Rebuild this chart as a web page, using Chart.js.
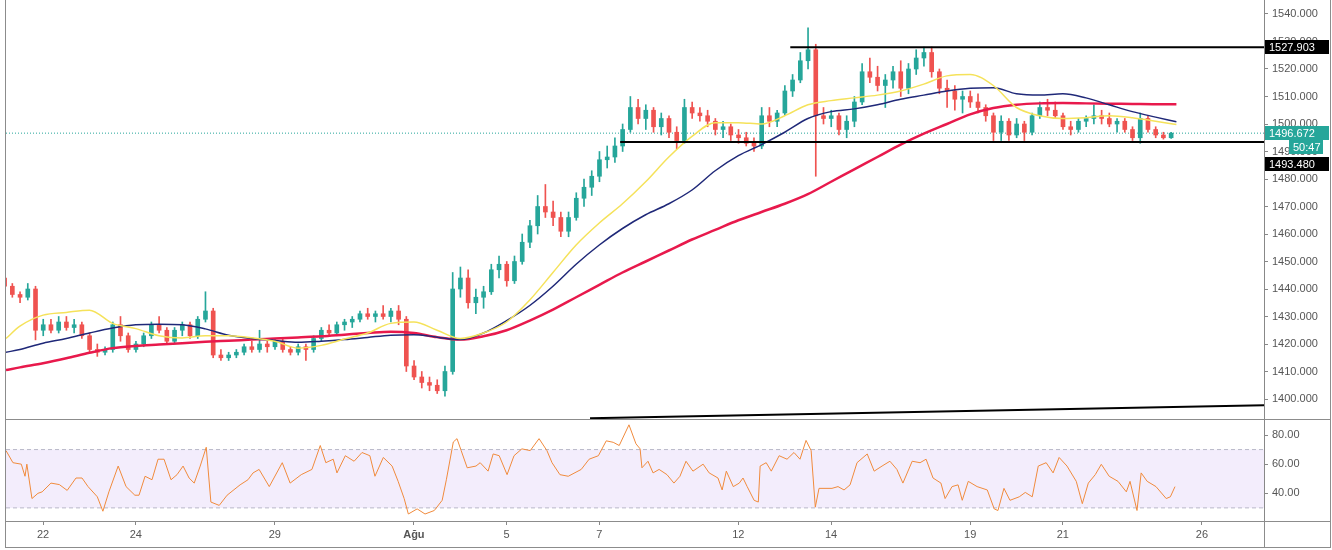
<!DOCTYPE html>
<html>
<head>
<meta charset="utf-8">
<script src="https://cdn.jsdelivr.net/npm/chart.js@4.4.0/dist/chart.umd.min.js"></script>
<style>
  body { margin: 0; background: #fff; }
  #wrap { position: relative; width: 1332px; height: 550px; overflow: hidden; background: #fff; }
  canvas { position: absolute; left: 0; }
  #priceChart { top: 0; }
  #rsiChart { top: 420px; }
  .ln { position: absolute; background: #8c8c8c; }
</style>
</head>
<body>
<div id="wrap">
  <canvas id="priceChart" width="1332" height="419"></canvas>
  <canvas id="rsiChart" width="1332" height="127"></canvas>
  <div class="ln" style="left:5px;top:0;width:1px;height:548px"></div>
  <div class="ln" style="left:5px;top:419px;width:1326px;height:1px"></div>
  <div class="ln" style="left:5px;top:521px;width:1326px;height:1px"></div>
  <div class="ln" style="left:5px;top:547px;width:1326px;height:1px"></div>
  <div class="ln" style="left:1330px;top:0;width:1px;height:548px"></div>
  <div class="ln" style="left:1264px;top:521px;width:1px;height:26px"></div>
</div>
<script>
// time axis is in trading days, 0 = 22 Jul
const xMin = -0.8, xMax = 26.34;
const dayTicks = [0, 2, 5, 8, 10, 12, 15, 17, 20, 22, 25];
const dayLabels = ["22", "24", "29", "Ağu", "5", "7", "12", "14", "19", "21", "26"];
const priceTicks = [1400, 1410, 1420, 1430, 1440, 1450, 1460, 1470, 1480, 1490, 1500, 1510, 1520, 1530, 1540];
const rsiTicks = [40, 60, 80];

// 4h candles
const candleStart = -0.83;
const candlesPerDay = 6;
const opens = [
  1444,1441,1438,1437,1440,1425,1427,1425,1428,1426,
  1427,1423,1418,1417,1418,1427,1423,1418,1420,1423,
  1427,1425,1421,1425,1427,1423,1429,1432,1416,1415,
  1416,1417,1419,1418,1420,1419,1421,1418,1417,1419,
  1418,1422,1425,1424,1427,1428,1429,1431,1430,1431,
  1430,1432,1429,1412,1408,1406,1405,1403,1410,1440,
  1444,1435,1437,1439,1447,1449,1443,1450,1457,1463,
  1470,1468,1466,1461,1466,1473,1477,1481,1487,1488,
  1492,1498,1506,1502,1505,1499,1502,1497,1494,1506,
  1504,1503,1501,1498,1499,1496,1495,1493,1492,1503,
  1501,1504,1512,1516,1523,1527,1503,1502,1503,1498,
  1501,1508,1519,1517,1514,1516,1519,1513,1520,1524,
  1526,1519,1513,1512,1509,1510,1508,1506,1503,1497,
  1501,1496,1500,1497,1503,1506,1505,1503,1499,1498,
  1501,1502,1503,1502,1500,1501,1498,1495,1502,1498,
  1496,1495
];
const highs = [
  1445,1442,1439,1442,1441,1429,1429,1430,1430,1429,
  1428,1424,1420,1419,1428,1430,1424,1421,1424,1428,
  1430,1426,1426,1428,1428,1430,1439,1433,1418,1417,
  1418,1420,1421,1425,1421,1422,1422,1419,1420,1420,
  1423,1426,1427,1428,1429,1430,1432,1433,1432,1434,
  1433,1434,1430,1414,1410,1408,1407,1412,1446,1448,
  1447,1440,1441,1449,1452,1450,1452,1460,1465,1474,
  1478,1472,1468,1468,1475,1480,1483,1490,1492,1495,
  1500,1510,1509,1507,1506,1504,1503,1499,1509,1508,
  1506,1505,1502,1501,1500,1498,1497,1495,1506,1506,
  1505,1514,1518,1526,1535,1529,1506,1505,1504,1503,
  1510,1522,1524,1521,1518,1521,1523,1522,1527,1528,
  1528,1520,1516,1514,1512,1512,1511,1507,1504,1503,
  1502,1502,1501,1504,1508,1509,1508,1504,1501,1502,
  1503,1507,1505,1504,1502,1502,1499,1504,1503,1499,
  1497,1497
];
const lows = [
  1440,1437,1435,1436,1421.5,1423,1424,1424,1425,1424,
  1422,1417,1415.5,1416,1417,1421,1417,1417,1419,1422,
  1424,1420,1420,1423,1422,1422,1428,1415,1414,1414,
  1415,1416,1417,1417,1417,1418,1417,1416,1416,1414,
  1417,1421,1423,1423,1425,1426,1428,1429,1428,1429,
  1428,1427,1410,1407,1404,1403,1402,1401,1409,1437,
  1433,1431,1433,1438,1444,1441,1442,1449,1455,1460,
  1466,1463,1459,1459,1465,1470,1474,1479,1484,1486,
  1490,1497,1500,1498,1497,1496,1495,1491,1493,1502,
  1501,1499,1496,1495,1494,1493,1492,1490,1491,1499,
  1499,1503,1510,1515,1520,1481,1500,1499,1496,1495,
  1499,1507,1515,1512,1506,1513,1510,1511,1518,1521,
  1517,1511,1506,1505,1504,1506,1504,1501,1494,1494,
  1494,1495,1494,1496,1502,1503,1502,1498,1496,1497,
  1499,1500,1500,1499,1497,1497,1494,1493,1497,1495,
  1494.5,1494.8
];
const closes = [
  1441,1438,1437,1440,1425,1427,1425,1428,1426,1427,
  1423,1418,1417,1418,1427,1423,1418,1420,1423,1427,
  1425,1421,1425,1427,1423,1429,1432,1416,1415,1416,
  1417,1419,1418,1420,1419,1421,1418,1417,1419,1418,
  1422,1425,1424,1427,1428,1429,1431,1430,1431,1430,
  1432,1429,1412,1408,1406,1405,1403,1410,1440,1444,
  1435,1437,1439,1447,1449,1443,1450,1457,1463,1470,
  1468,1466,1461,1466,1473,1477,1481,1487,1488,1492,
  1498,1506,1502,1505,1499,1502,1497,1494,1506,1504,
  1503,1501,1498,1499,1496,1495,1493,1492,1503,1501,
  1504,1512,1516,1523,1527,1503,1502,1503,1498,1501,
  1508,1519,1517,1514,1516,1519,1513,1520,1524,1526,
  1519,1513,1512,1509,1510,1508,1506,1503,1497,1501,
  1496,1500,1497,1503,1506,1505,1503,1499,1498,1501,
  1502,1503,1502,1500,1501,1498,1495,1502,1498,1496,
  1495,1496.672
];

// moving averages
const maTime = [-0.8, -0.5, 0, 0.5, 1, 1.5, 2, 2.5, 3, 3.5, 4, 4.5, 5, 5.5, 6, 6.5, 7, 7.5, 8, 8.5,
  9, 9.5, 10, 10.5, 11, 11.5, 12, 12.5, 13, 13.5, 14, 14.5, 15, 15.5, 16, 16.5, 17, 17.5, 18, 18.5,
  19, 19.5, 20, 20.5, 21, 21.5, 22, 22.5, 23, 23.5, 24, 24.45];
const ma50 = [1422, 1426.5, 1430.5, 1431.5, 1432.3, 1427.5, 1425.6, 1423, 1422.2, 1423, 1423, 1422.3, 1421, 1418.5,
  1419.5, 1421.8, 1424, 1427.5, 1428, 1425, 1422, 1424, 1428, 1436, 1446, 1456, 1464, 1471, 1479, 1488,
  1495.5, 1500.5, 1500.5, 1500, 1503, 1507, 1508.5, 1509.5, 1510.5, 1512, 1514.5, 1517.5, 1518, 1514,
  1506, 1503, 1502, 1502.3, 1503, 1502.3, 1501, 1499.8];
const ma100 = [1417, 1418, 1420.3, 1422, 1424, 1425.8, 1427, 1427.2, 1427, 1425.5, 1423.2, 1422, 1421.3, 1420.6,
  1421, 1421.6, 1422.4, 1423.2, 1423.4, 1422.5, 1421.6, 1424, 1428.5, 1434, 1441, 1449, 1456, 1462, 1467,
  1471, 1476, 1483, 1488.5, 1492.5, 1497, 1502, 1504.5, 1505.5, 1507, 1509, 1510.5, 1512, 1513, 1513.2,
  1511, 1510.5, 1511, 1509.5, 1507, 1504.5, 1502.5, 1500.8];
const ma200 = [1410.5, 1411.5, 1413, 1414.8, 1416.8, 1418.5, 1419.3, 1419.8, 1420.3, 1420.8, 1421.2, 1421.6, 1422,
  1422.4, 1422.8, 1423.4, 1424, 1424.5, 1424, 1422.5, 1421.6, 1422.8, 1425, 1428.5, 1432.5, 1437, 1441.5,
  1446, 1450, 1454, 1458, 1461.5, 1465, 1468, 1471, 1474.5, 1479, 1483.5, 1488, 1492.5, 1496.5, 1500,
  1503.5, 1505.8, 1507, 1507.5, 1507.6, 1507.5, 1507.4, 1507.3, 1507.2, 1507.2];

// drawn levels
const resistance = 1527.903, resistanceFrom = 16.12;
const support = 1493.48, supportFrom = 12.45;
const lastPrice = 1496.672;
const countdown = "50:47";
const trendTime = [11.8, 26.34];
const trendPrice = [1393.0, 1397.7];

// RSI
const rsiUpper = 70, rsiLower = 30;
const rsiTime = [-0.80,-0.65,-0.47,-0.39,-0.35,-0.24,-0.11,-0.02,0.17,0.35,0.52,0.71,0.84,0.97,1.17,1.29,1.42,1.62,1.79,1.98,
  2.07,2.20,2.35,2.48,2.61,2.76,2.89,3.02,3.15,3.26,3.39,3.52,3.62,3.80,3.97,4.25,4.42,4.53,4.66,4.88,
  5.16,5.33,5.57,5.80,5.98,6.10,6.26,6.34,6.52,6.71,6.88,7.05,7.16,7.34,7.53,7.66,7.79,7.88,8.07,8.24,
  8.44,8.61,8.70,8.85,8.93,9.02,9.15,9.34,9.43,9.60,9.71,9.84,10.01,10.16,10.33,10.51,10.70,10.87,10.98,11.15,
  11.33,11.61,11.78,11.98,12.15,12.30,12.43,12.64,12.79,12.88,12.92,13.05,13.16,13.29,13.46,13.61,13.74,13.87,14.02,14.24,
  14.37,14.56,14.65,14.74,14.89,15.02,15.10,15.19,15.34,15.43,15.47,15.60,15.71,15.88,16.05,16.20,16.33,16.46,16.57,16.66,
  16.74,17.02,17.15,17.28,17.41,17.56,17.78,17.93,18.10,18.27,18.42,18.55,18.75,18.92,19.05,19.20,19.37,19.46,19.61,19.74,
  19.83,19.96,20.15,20.37,20.52,20.60,20.73,20.86,21.06,21.19,21.34,21.47,21.64,21.79,21.92,22.09,22.29,22.42,22.55,22.70,
  22.83,23.00,23.19,23.37,23.45,23.60,23.69,23.82,24.01,24.23,24.32,24.42];
const rsiValues = [69.3,61,60,51.7,60,36.4,40,41,47,46,42,50.5,50.5,44.6,37.6,27.7,41,58.7,44.6,38.7,
  38.7,51.7,49.3,63.4,63.4,49.3,52.8,58.7,50.5,47,58.7,71.6,34,31.7,38.7,45.8,49.3,54,56.4,44.6,
  61,47,52.8,56.4,72.8,61,63.4,54,65.8,62,68,65.8,51.7,64.6,58.7,48.2,36.4,25.8,29.3,25.8,
  28.2,35.2,49.3,75.2,77.5,69.3,57.5,58.7,61,55.2,67,65.8,52.8,65.8,70.5,69.3,77.5,69.3,61,52.8,
  51.7,56.4,63.4,65.8,76,75,72.8,87,74,70.5,57.5,62,54,56.4,52.8,47,51.7,62,55.2,60,
  54,50.5,42.3,55.2,44.6,47,50.5,44.6,35.2,34,58.7,61,55.2,65.8,63.4,68,63.4,76.3,69.3,30.5,
  43.4,43.4,44.6,42.3,45.8,61,67,55.2,58.7,62,56.4,47,62,61,63.4,50.5,47,36.4,44.6,45.8,
  35.2,48.2,44.6,42.3,29.3,28.2,43.4,35.2,37.6,40.6,37.6,58.7,61,54,64.6,58.7,48.2,32.9,47,52.8,
  59.9,51.7,48.2,41,48.2,28.2,54,48.2,44.6,36.4,37.6,44.6];

const UP = "#26a69a", DOWN = "#ef5350";
Chart.defaults.font.family = '"Liberation Sans", Arial, sans-serif';
Chart.defaults.font.size = 11;
Chart.defaults.color = "#555";

const candleTime = opens.map((o, i) => candleStart + i / candlesPerDay);
const candleColor = opens.map((o, i) => closes[i] >= o ? UP : DOWN);
const pts = (xs, ys) => xs.map((x, i) => ({ x: x, y: ys[i] }));

function line(data, color, width, order, extra) {
  return Object.assign({ type: "line", data: data, borderColor: color, borderWidth: width,
    pointRadius: 0, fill: false, order: order }, extra || {});
}

const priceLabels = {
  id: "priceLabels",
  afterDraw(chart) {
    const ctx = chart.ctx, y = chart.scales.y;
    const x0 = chart.chartArea.right + 1;
    ctx.save();
    ctx.font = '11px "Liberation Sans", Arial, sans-serif';
    ctx.textBaseline = "middle";
    function box(text, value, bg, shift, left, w) {
      const py = Math.round(y.getPixelForValue(value) + shift);
      ctx.fillStyle = bg;
      ctx.fillRect(left, py - 7, w, 14);
      ctx.fillStyle = "#fff";
      ctx.fillText(text, left + 4, py + 1);
    }
    box(resistance.toFixed(3), resistance, "#000", 0, x0, 64);
    box(lastPrice.toFixed(3), lastPrice, UP, 0, x0, 64);
    box(countdown, lastPrice, UP, 14, x0 + 24, 34);
    box(support.toFixed(3), support, "#000", 22, x0, 64);
    ctx.restore();
  }
};

new Chart(document.getElementById("priceChart"), {
  type: "bar",
  data: {
    datasets: [
      { data: candleTime.map((t, i) => ({ x: t, y: [lows[i], highs[i]] })), backgroundColor: candleColor,
        barThickness: 1, grouped: false, order: 11 },
      { data: candleTime.map((t, i) => ({ x: t, y: [opens[i], closes[i]] })), backgroundColor: candleColor,
        barThickness: 4, minBarLength: 1, grouped: false, order: 10 },
      line([{ x: xMin, y: lastPrice }, { x: xMax, y: lastPrice }], UP, 1, 12, { borderDash: [1, 2] }),
      line(pts(maTime, ma200), "#e8194c", 2.5, 6, { cubicInterpolationMode: "monotone" }),
      line(pts(maTime, ma100), "#1f2878", 1.5, 5, { cubicInterpolationMode: "monotone" }),
      line(pts(maTime, ma50), "#f5e25a", 1.5, 4, { cubicInterpolationMode: "monotone" }),
      line([{ x: resistanceFrom, y: resistance }, { x: xMax, y: resistance }], "#000", 2, 1),
      line([{ x: supportFrom, y: support }, { x: xMax, y: support }], "#000", 2, 1),
      line(pts(trendTime, trendPrice), "#000", 2, 1)
    ]
  },
  options: {
    responsive: false,
    animation: false,
    events: [],
    layout: { padding: { left: 6, right: 0, top: 0, bottom: 0 } },
    plugins: { legend: { display: false }, tooltip: { enabled: false } },
    scales: {
      x: { type: "linear", min: xMin, max: xMax, offset: false, display: false },
      y: {
        position: "right", min: 1392.73, max: 1545.09,
        afterBuildTicks: s => { s.ticks = priceTicks.map(v => ({ value: v })); },
        afterFit: s => { s.width = 68; s.paddingTop = 0; s.paddingBottom = 0; },
        ticks: { autoSkip: false, padding: 4, callback: v => v.toFixed(3) },
        grid: { drawOnChartArea: false, tickLength: 4, color: "#888" },
        border: { display: true, color: "#888" }
      }
    }
  },
  plugins: [priceLabels]
});

new Chart(document.getElementById("rsiChart"), {
  type: "line",
  data: {
    datasets: [
      line([{ x: xMin, y: rsiUpper }, { x: xMax, y: rsiUpper }], "#b8b8c8", 1, 3, { borderDash: [4, 3] }),
      line([{ x: xMin, y: rsiLower }, { x: xMax, y: rsiLower }], "#b8b8c8", 1, 3,
        { borderDash: [4, 3], fill: "-1", backgroundColor: "rgba(150, 90, 230, 0.11)" }),
      line(pts(rsiTime, rsiValues), "#f08a3c", 1, 1)
    ]
  },
  options: {
    responsive: false,
    animation: false,
    events: [],
    layout: { padding: { left: 6, right: 0, top: 0, bottom: 0 } },
    plugins: { legend: { display: false }, tooltip: { enabled: false } },
    scales: {
      x: {
        type: "linear", min: xMin, max: xMax, offset: false,
        afterBuildTicks: s => { s.ticks = dayTicks.map(v => ({ value: v })); },
        afterFit: s => { s.height = 26; s.paddingLeft = 0; s.paddingRight = 0; },
        ticks: {
          autoSkip: false, maxRotation: 0, padding: 3,
          callback: (v, i) => dayLabels[i],
          font: c => ({ size: 11, weight: dayLabels[c.index] === "Ağu" ? "bold" : "normal" })
        },
        grid: { drawOnChartArea: false, tickLength: 4, color: "#888" },
        border: { display: true, color: "#888" }
      },
      y: {
        position: "right", min: 21.0, max: 90.3,
        afterBuildTicks: s => { s.ticks = rsiTicks.map(v => ({ value: v })); },
        afterFit: s => { s.width = 68; s.paddingTop = 0; s.paddingBottom = 0; },
        ticks: { autoSkip: false, padding: 4, callback: v => v.toFixed(2) },
        grid: { drawOnChartArea: false, tickLength: 4, color: "#888" },
        border: { display: true, color: "#888" }
      }
    }
  }
});
</script>
</body>
</html>
